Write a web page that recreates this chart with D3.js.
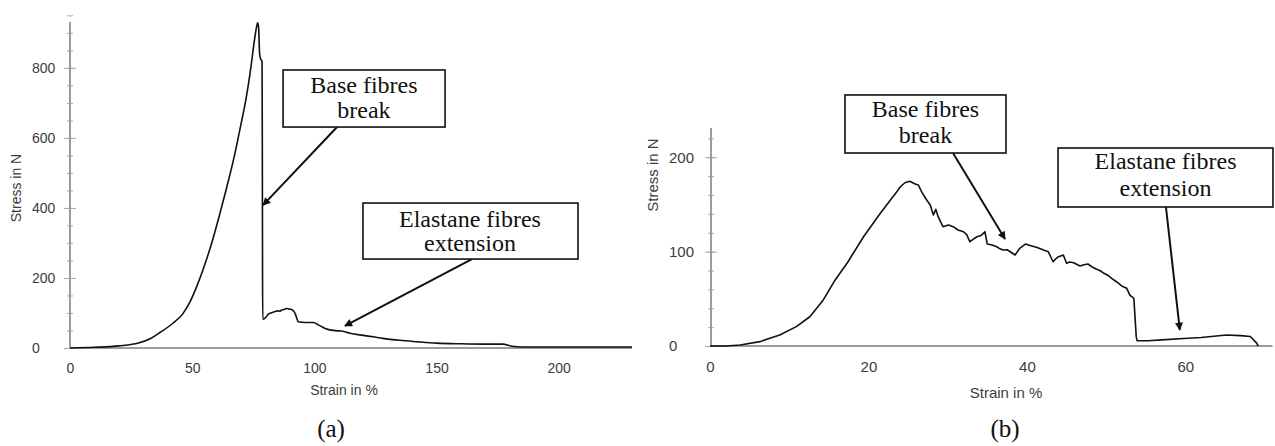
<!DOCTYPE html>
<html>
<head>
<meta charset="utf-8">
<script src="https://cdn.jsdelivr.net/npm/d3@7"></script>
<style>
  html, body { margin: 0; padding: 0; background: #fff; }
  svg { display: block; }
</style>
</head>
<body>
<svg id="chart" width="1275" height="446"></svg>
<script>
// ---------- DATA ----------
// Chart (a)
const aStrain = [0, 10, 20, 28, 33, 37, 42, 46, 49, 52, 55, 58, 61, 64, 67, 70, 72, 74, 75.5, 76.3, 76.8, 77.2, 77.6, 78.0, 78.6, 78.7, 78.8, 78.9, 79.8, 81.2, 82.5, 83.9, 85, 85.8, 86.6, 87.5, 88.7, 89.6, 90.7, 91.4, 92.1, 92.8, 93.4, 96.2, 99.6, 101.6, 104.4, 108.5, 111.2, 114.6, 120, 124, 128, 135, 142, 150, 160, 170, 177, 181, 185, 200, 230];
const aStress = [0, 2, 6, 14, 27, 45, 70, 96, 130, 178, 235, 300, 375, 455, 540, 640, 710, 800, 880, 915, 929, 915, 840, 826, 818, 600, 200, 82, 85, 97, 101, 104, 106, 105, 108.5, 110, 113, 111, 110, 106, 99, 85, 75, 73, 73, 66, 56, 49.5, 48.5, 42, 36, 32, 27.6, 22, 18, 14, 12, 11, 11, 5, 3, 3, 3];
const aXTicks = [0, 50, 100, 150, 200];
const aYTicks = [0, 200, 400, 600, 800];
const aYMinor = [0, 50, 100, 150, 200, 250, 300, 350, 400, 450, 500, 550, 600, 650, 700, 750, 800, 850, 900, 950];

// Chart (b)
const bStrain = [0, 2, 3.8, 6.3, 8.8, 10.9, 12.6, 14.3, 15.8, 17.3, 19.4, 21.5, 23.6, 24.0, 24.6, 25.2, 25.6, 25.9, 26.3, 26.7, 27.35, 27.8, 28.2, 28.5, 28.8, 29.4, 30.1, 30.7, 31.3, 32, 32.4, 32.8, 33.2, 33.7, 34.2, 34.7, 35, 35.6, 36.2, 36.6, 37, 37.5, 37.9, 38.5, 39.1, 39.8, 40.2, 40.6, 41.2, 42.1, 42.7, 43.3, 43.6, 44, 44.6, 45, 45.4, 45.9, 46.7, 47.2, 47.7, 48.2, 48.8, 49.2, 49.6, 50.2, 50.7, 51.3, 51.97, 52.6, 53, 53.5, 53.8, 53.9, 55.3, 57, 59.8, 62, 65.2, 67, 68.2, 69, 69.2];
const bStress = [0, 0, 1, 4.6, 11.7, 20.5, 31, 48.8, 70, 87.7, 116, 140.7, 163.6, 168.5, 173, 174.5, 173, 171.7, 170.6, 163.5, 154.7, 149.4, 138.8, 144.8, 137, 126.4, 128.2, 126.4, 122.9, 121.1, 118, 110.5, 113, 115.8, 117, 121.1, 108, 107, 105.2, 103, 101.7, 102, 99.9, 96.4, 103.5, 108, 107, 106, 104.6, 101.7, 99.9, 89.3, 92, 94.6, 96.4, 87.6, 89, 88.3, 84.8, 86, 86.9, 84, 81.3, 80, 77.7, 75, 71.7, 68.1, 63.6, 61.1, 54, 50.5, 9.9, 5.6, 5.6, 6.5, 8, 9, 11.7, 11, 10, 3, 0];
const bXTicks = [0, 20, 40, 60];
const bYTicks = [0, 100, 200];
const bYMinor = [0, 20, 40, 60, 80, 100, 120, 140, 160, 180, 200, 220];

// Annotations (data units): box corners, text centre / baselines, arrow start & tip
const aNotes = [
  { lines: ["Base fibres", "break"], x0: 87.2, x1: 153.5, y0: 794, y1: 631, tx: 120.3, ty: [728, 657], from: [109.3, 631], to: [79.0, 408] },
  { lines: ["Elastane fibres", "extension"], x0: 119.9, x1: 207.9, y0: 414, y1: 254, tx: 163.7, ty: [346, 278], from: [164.5, 254], to: [112.5, 63] }
];
const bNotes = [
  { lines: ["Base fibres", "break"], x0: 17.04, x1: 37.36, y0: 266, y1: 204.5, tx: 27.2, ty: [242.7, 215], from: [30.67, 204.5], to: [37.24, 113.4] },
  { lines: ["Elastane fibres", "extension"], x0: 43.93, x1: 71.06, y0: 209.8, y1: 147.3, tx: 57.5, ty: [187.6, 159], from: [57.55, 147.3], to: [59.3, 17] }
];

// ---------- DRAW ----------
const svg = d3.select("#chart");
const defs = svg.append("defs");
defs.append("marker")
  .attr("id", "arrow").attr("viewBox", "0 0 10 10")
  .attr("refX", 9).attr("refY", 5)
  .attr("markerWidth", 11).attr("markerHeight", 8)
  .attr("markerUnits", "userSpaceOnUse")
  .attr("orient", "auto")
  .append("path").attr("d", "M0,0 L10,5 L0,10 Z").attr("fill", "#111");

const AXIS_COL = "#9c9c9c";
const TICK_COL = "#a8a8a8";
const LABEL_COL = "#3c3c3c";

function drawPanel(cfg) {
  const { x, y, strain, stress, xTicks, yTicks, yMinor, notes, labelX, fs, curve, axisX } = cfg;
  const g = svg.append("g");
  const [xr0, xr1] = x.range();
  const [yr0, yr1] = y.range();

  // minor y ticks
  g.append("g").attr("transform", `translate(${axisX + 3},0)`)
    .call(d3.axisLeft(y).tickValues(yMinor).tickSize(6).tickFormat(""))
    .call(s => s.select(".domain").remove())
    .call(s => s.selectAll("line").attr("stroke", TICK_COL).attr("stroke-width", 1));
  // major y ticks
  g.append("g").attr("transform", `translate(${axisX + 6},0)`)
    .call(d3.axisLeft(y).tickValues(yTicks).tickSize(12).tickFormat(""))
    .call(s => s.select(".domain").remove())
    .call(s => s.selectAll("line").attr("stroke", TICK_COL).attr("stroke-width", 1));
  // y labels (left aligned as in the original)
  g.append("g").attr("transform", `translate(${labelX},0)`)
    .call(d3.axisLeft(y).tickValues(yTicks).tickSize(0).tickPadding(0).tickFormat(d3.format("d")))
    .call(s => s.select(".domain").remove())
    .call(s => s.selectAll("text").attr("text-anchor", "start")
      .attr("font-family", "Liberation Sans, Arial, sans-serif")
      .attr("font-size", fs).attr("fill", LABEL_COL));
  // x labels
  g.append("g").attr("transform", `translate(0,${yr0})`)
    .call(d3.axisBottom(x).tickValues(xTicks).tickSize(0).tickPadding(15).tickFormat(d3.format("d")))
    .call(s => s.select(".domain").remove())
    .call(s => s.selectAll("text")
      .attr("font-family", "Liberation Sans, Arial, sans-serif")
      .attr("font-size", fs).attr("fill", LABEL_COL));

  // axis lines
  g.append("line").attr("x1", axisX).attr("x2", axisX).attr("y1", yr0).attr("y2", yr1)
    .attr("stroke", AXIS_COL).attr("stroke-width", 2);
  g.append("line").attr("x1", xr0).attr("x2", xr1).attr("y1", yr0).attr("y2", yr0)
    .attr("stroke", AXIS_COL).attr("stroke-width", 2);

  // curve
  const pts = strain.map((s, i) => [s, stress[i]]);
  g.append("path").datum(pts)
    .attr("fill", "none").attr("stroke", "#111").attr("stroke-width", 1.6)
    .attr("stroke-linejoin", "round")
    .attr("d", d3.line().x(d => x(d[0])).y(d => y(d[1])).curve(curve));

  // annotations
  notes.forEach(n => {
    g.append("line")
      .attr("x1", x(n.from[0])).attr("y1", y(n.from[1]))
      .attr("x2", x(n.to[0])).attr("y2", y(n.to[1]))
      .attr("stroke", "#111").attr("stroke-width", 2)
      .attr("marker-end", "url(#arrow)");
    g.append("rect")
      .attr("x", x(n.x0)).attr("y", y(n.y0))
      .attr("width", x(n.x1) - x(n.x0)).attr("height", y(n.y1) - y(n.y0))
      .attr("fill", "#fff").attr("stroke", "#111").attr("stroke-width", 1.6);
    n.lines.forEach((t, i) => {
      g.append("text").attr("x", x(n.tx)).attr("y", y(n.ty[i]))
        .attr("text-anchor", "middle")
        .attr("font-family", "Liberation Serif, 'Times New Roman', serif")
        .attr("font-size", 24).attr("fill", "#111").text(t);
    });
  });
  return g;
}

const xa = d3.scaleLinear().domain([0, 230]).range([70, 632]);
const ya = d3.scaleLinear().domain([0, 931]).range([348, 22]);
drawPanel({ x: xa, y: ya, strain: aStrain, stress: aStress, xTicks: aXTicks, yTicks: aYTicks, yMinor: aYMinor,
  notes: aNotes, labelX: 32, fs: 14, curve: d3.curveMonotoneX, axisX: 70 });

const xb = d3.scaleLinear().domain([0, 71]).range([710, 1272.5]);
const yb = d3.scaleLinear().domain([0, 231]).range([346, 128]);
drawPanel({ x: xb, y: yb, strain: bStrain, stress: bStress, xTicks: bXTicks, yTicks: bYTicks, yMinor: bYMinor,
  notes: bNotes, labelX: 669, fs: 15, curve: d3.curveLinear, axisX: 711 });

// axis titles
const sans = "Liberation Sans, Arial, sans-serif";
svg.append("text").attr("transform", "translate(21,188) rotate(-90)").attr("text-anchor", "middle")
  .attr("font-family", sans).attr("font-size", 14).attr("fill", LABEL_COL).text("Stress in N");
svg.append("text").attr("x", 344).attr("y", 395).attr("text-anchor", "middle")
  .attr("font-family", sans).attr("font-size", 14).attr("fill", LABEL_COL).text("Strain in %");
svg.append("text").attr("transform", "translate(658,175) rotate(-90)").attr("text-anchor", "middle")
  .attr("font-family", sans).attr("font-size", 15).attr("fill", LABEL_COL).text("Stress in N");
svg.append("text").attr("x", 1006).attr("y", 398).attr("text-anchor", "middle")
  .attr("font-family", sans).attr("font-size", 15).attr("fill", LABEL_COL).text("Strain in %");

// captions
const serif = "Liberation Serif, 'Times New Roman', serif";
svg.append("text").attr("x", 331).attr("y", 437).attr("text-anchor", "middle")
  .attr("font-family", serif).attr("font-size", 25).attr("fill", "#111").text("(a)");
svg.append("text").attr("x", 1005).attr("y", 437).attr("text-anchor", "middle")
  .attr("font-family", serif).attr("font-size", 25).attr("fill", "#111").text("(b)");
</script>
</body>
</html>
